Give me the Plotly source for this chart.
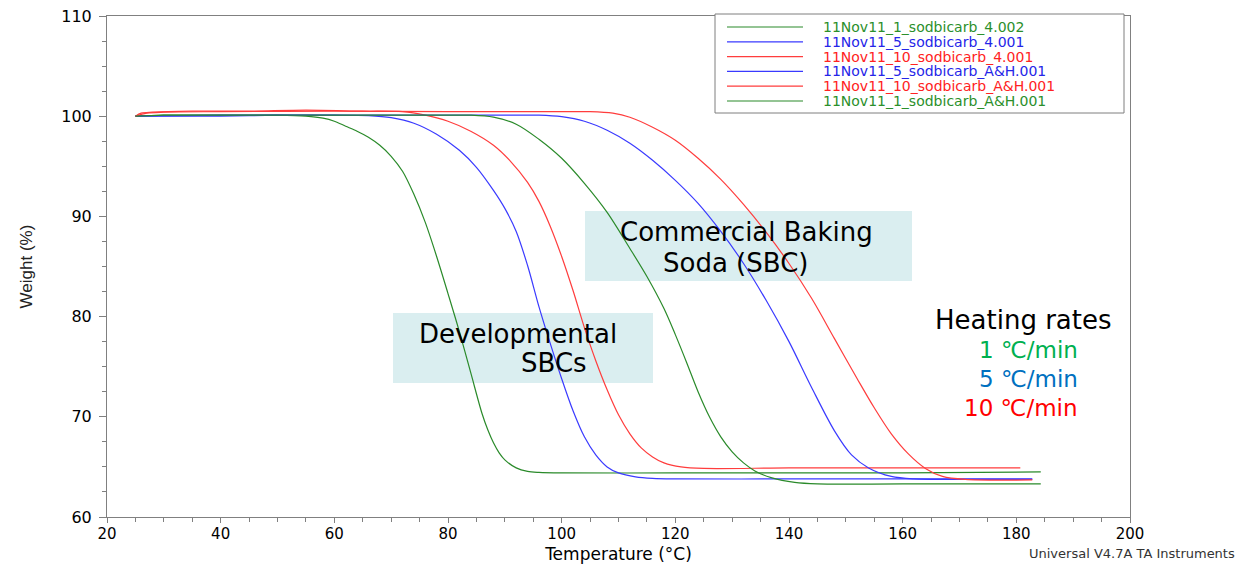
import plotly.graph_objects as go

# ---------------- data ----------------
g4_T = [25, 30, 40, 50, 55, 58, 60, 62, 64, 66, 68, 70, 72, 74, 76, 78, 80, 82, 84, 86, 87, 88, 89, 90,
        92, 94, 96, 100, 120, 140, 160, 184.3]
g4_W = [100.0, 100.1, 100.1, 100.1, 100.0, 99.8, 99.5, 99.0, 98.5, 97.9, 97.1, 96.0, 94.5, 92.2, 89.4,
        86.0, 82.3, 78.5, 74.4, 70.3, 68.7, 67.4, 66.4, 65.7, 64.9, 64.55, 64.45, 64.4, 64.4, 64.4, 64.4,
        64.5]

b4_T = [25, 30, 40, 50, 60, 66, 70, 74, 78, 82, 85, 88, 90, 92, 94, 96, 98, 100, 102, 104, 106, 108,
        110, 113, 116, 120, 140, 160, 182.8]
b4_W = [100.0, 100.0, 100.0, 100.1, 100.1, 100.05, 99.85, 99.3, 98.2, 96.6, 94.9, 92.6, 90.8, 88.5,
        85.1, 81.0, 77.3, 73.8, 70.6, 68.0, 66.2, 65.0, 64.4, 64.0, 63.85, 63.8, 63.8, 63.8, 63.8]

r4_T = [25, 26, 28, 35, 45, 55, 65, 72, 76, 80, 84, 88, 91, 94, 96, 98, 100, 102, 104, 106, 108, 110,
        112, 114, 116, 118, 121, 125, 140, 160, 180.7]
r4_W = [100.0, 100.3, 100.4, 100.5, 100.5, 100.6, 100.5, 100.45, 100.1, 99.5, 98.5, 97.1, 95.5, 93.4,
        91.5, 89.0, 86.0, 82.6, 78.9, 75.6, 72.7, 70.2, 68.3, 66.9, 66.0, 65.4, 65.0, 64.85, 64.9, 64.9,
        64.9]

bAH_T = [25, 40, 60, 80, 90, 96, 100, 104, 108, 112, 116, 120, 124, 128, 132, 136, 140, 144, 148, 151,
         154, 158, 162, 170, 182.8]
bAH_W = [100.0, 100.1, 100.1, 100.1, 100.1, 100.1, 99.95, 99.5, 98.6, 97.3, 95.6, 93.6, 91.3, 88.5,
         85.3, 81.6, 77.5, 72.9, 68.6, 66.2, 64.9, 64.05, 63.8, 63.75, 63.75]

rAH_T = [25, 27, 30, 40, 60, 80, 100, 105, 109, 112, 116, 120, 124, 128, 132, 136, 140, 144, 148, 152,
         155, 158, 161, 164, 167, 171, 182.8]
rAH_W = [100.0, 100.3, 100.4, 100.45, 100.5, 100.45, 100.45, 100.45, 100.3, 99.9, 98.9, 97.6, 95.8,
         93.7, 91.2, 88.4, 85.3, 81.8, 77.8, 73.8, 70.9, 68.3, 66.3, 64.85, 64.05, 63.75, 63.7]

gAH_T = [25, 30, 40, 50, 60, 70, 80, 84, 88, 92, 96, 100, 104, 108, 112, 115, 118, 120, 122, 124, 126,
         128, 130, 132, 134, 137, 141, 145, 160, 184.3]
gAH_W = [100.0, 100.1, 100.1, 100.1, 100.1, 100.1, 100.1, 100.1, 99.9, 99.2, 97.7, 95.8, 93.3, 90.4,
         86.8, 84.0, 80.8, 78.2, 75.4, 72.5, 70.0, 68.0, 66.5, 65.4, 64.6, 63.9, 63.45, 63.3, 63.3, 63.3]

series_names = ["11Nov11_1_sodbicarb_4.002", "11Nov11_5_sodbicarb_4.001", "11Nov11_10_sodbicarb_4.001",
                "11Nov11_5_sodbicarb_A&H.001", "11Nov11_10_sodbicarb_A&H.001", "11Nov11_1_sodbicarb_A&H.001"]
series_T = [g4_T, b4_T, r4_T, bAH_T, rAH_T, gAH_T]
series_W = [g4_W, b4_W, r4_W, bAH_W, rAH_W, gAH_W]

rate_labels = ["1 ℃/min", "5 ℃/min", "10 ℃/min"]

# ---------------- styles ----------------
GREEN, BLUE, RED = "#2a8a2a", "#3a3aff", "#ff3d3d"
line_colors = [GREEN, BLUE, RED, BLUE, RED, GREEN]
text_colors = ["#2b8f2b", "#2525e8", "#ff2222", "#2525e8", "#ff2222", "#2b8f2b"]
rate_colors = ["#00b050", "#0070c0", "#ff0000"]
BOX = "#daeef0"
FONT = "DejaVu Sans"

W_PX, H_PX = 1243, 564
L, R, T, B = 107, 1130, 16, 517


def px(x):
    return (x - L) / (R - L)


def py(y):
    return (B - y) / (B - T)


fig = go.Figure()
for name, xs, ys, c in zip(series_names, series_T, series_W, line_colors):
    fig.add_trace(go.Scatter(x=xs, y=ys, mode="lines", name=name, showlegend=False,
                             line=dict(color=c, width=1.2, shape="spline", smoothing=0.9)))

shapes = []
annotations = []

# annotation boxes
shapes.append(dict(type="rect", xref="paper", yref="paper", x0=px(585), x1=px(912), y0=py(281), y1=py(211),
                   fillcolor=BOX, line=dict(width=0), layer="below"))
shapes.append(dict(type="rect", xref="paper", yref="paper", x0=px(393), x1=px(653), y0=py(383), y1=py(313),
                   fillcolor=BOX, line=dict(width=0), layer="below"))

for txt, cx, cy in [("Commercial Baking", 746, 232), ("Soda (SBC)", 735, 263),
                    ("Developmental", 518, 334), ("SBCs", 554, 363)]:
    annotations.append(dict(text=txt, xref="paper", yref="paper", x=px(cx), y=py(cy), xanchor="center",
                            yanchor="middle", showarrow=False, font=dict(family=FONT, size=26, color="black")))

# heating rates block
annotations.append(dict(text="Heating rates", xref="paper", yref="paper", x=px(1023), y=py(320),
                        xanchor="center", yanchor="middle", showarrow=False,
                        font=dict(family=FONT, size=26, color="black")))
for i, (lab, col) in enumerate(zip(rate_labels, rate_colors)):
    annotations.append(dict(text=lab, xref="paper", yref="paper", x=px(1080), y=py(350 + 29 * i),
                            xanchor="right", yanchor="middle", showarrow=False,
                            font=dict(family=FONT, size=23, color=col)))

# legend box (drawn manually to match the instrument software layout)
shapes.append(dict(type="rect", xref="paper", yref="paper", x0=px(715), x1=px(1124), y0=py(113), y1=py(14),
                   fillcolor="white", line=dict(color="#7f7f7f", width=1)))
for i, (name, lc, tc) in enumerate(zip(series_names, line_colors, text_colors)):
    yy = py(27 + 14.8 * i)
    shapes.append(dict(type="line", xref="paper", yref="paper", x0=px(727), x1=px(803), y0=yy, y1=yy,
                       line=dict(color=lc, width=1.2)))
    annotations.append(dict(text=name, xref="paper", yref="paper", x=px(821), y=yy, xanchor="left",
                            yanchor="middle", showarrow=False, font=dict(family=FONT, size=14, color=tc)))

annotations.append(dict(text="Universal V4.7A TA Instruments", xref="paper", yref="paper", x=px(1237),
                        y=py(553), xanchor="right", yanchor="middle", showarrow=False,
                        font=dict(family=FONT, size=13, color="#333333")))

axis_common = dict(showline=True, linecolor="#808080", linewidth=1, mirror=True, showgrid=False,
                   zeroline=False, ticks="outside", tickcolor="#808080", tickwidth=1)

fig.update_layout(
    width=W_PX, height=H_PX,
    margin=dict(l=L, r=W_PX - R, t=T, b=H_PX - B, autoexpand=False),
    paper_bgcolor="white", plot_bgcolor="white",
    xaxis=dict(range=[20, 200], tickmode="linear", tick0=20, dtick=20, ticklen=5,
               minor=dict(ticks="outside", ticklen=4, dtick=5, tickcolor="#808080", showgrid=False),
               tickfont=dict(family=FONT, size=15, color="black"),
               ticklabelstandoff=-2,
               title=dict(text="Temperature (°C)", standoff=9,
                          font=dict(family=FONT, size=17, color="black")),
               **axis_common),
    yaxis=dict(range=[60, 110], tickmode="linear", tick0=60, dtick=10, ticklen=7,
               minor=dict(ticks="outside", ticklen=4, dtick=2.5, tickcolor="#808080", showgrid=False),
               tickfont=dict(family=FONT, size=16, color="black"),
               title=dict(text="Weight (%)", standoff=24,
                          font=dict(family="Liberation Sans Narrow, Liberation Sans", size=17, color="#222222")),
               ticklabelstandoff=4,
               **axis_common),
    shapes=shapes,
    annotations=annotations,
    showlegend=False,
)

fig.write_html("out.html", config={"displayModeBar": False},
               post_script="document.body.style.margin='0';document.body.style.overflow='hidden';")
